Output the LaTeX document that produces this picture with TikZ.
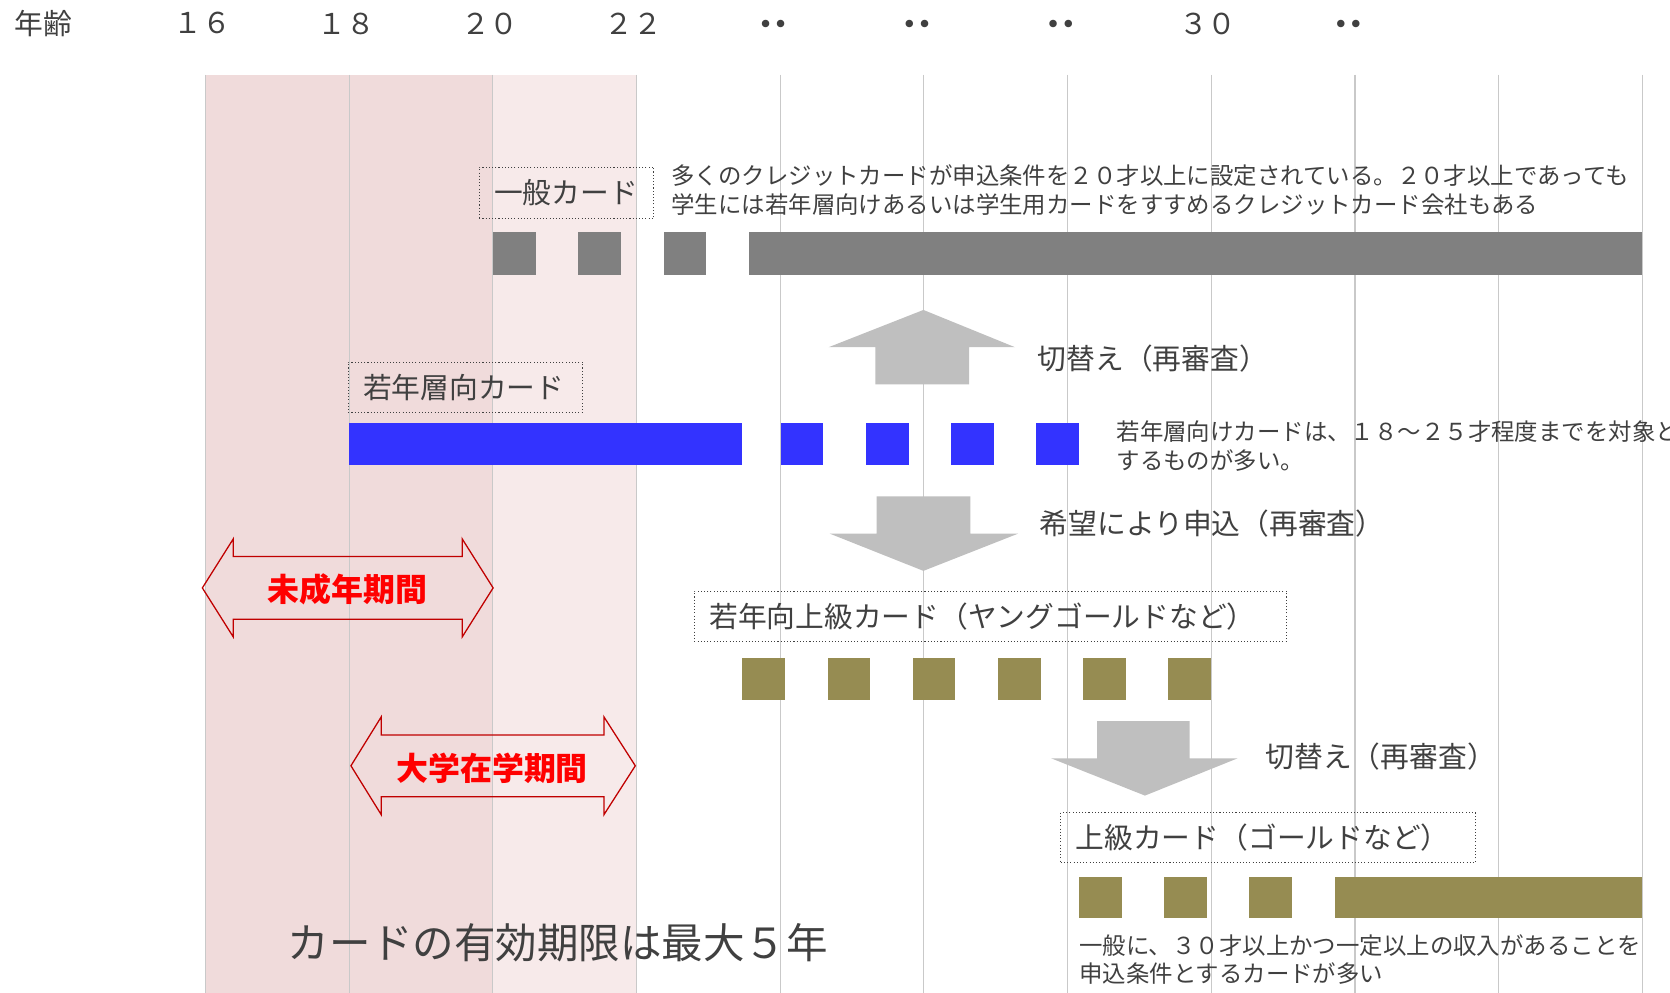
\documentclass[tikz,border=0pt]{standalone}
\usepackage{fontspec}
\setmainfont{Noto Sans CJK JP}
\newfontfamily\dotfont{DejaVu Sans}
\definecolor{txt}{HTML}{404040}
\definecolor{pinkdark}{HTML}{F0DBDB}
\definecolor{pinklight}{HTML}{F7EAEA}
\definecolor{gridc}{HTML}{C9C9C9}
\definecolor{bargray}{HTML}{808080}
\definecolor{barblue}{HTML}{3333FF}
\definecolor{barolive}{HTML}{968C52}
\definecolor{arrowgray}{HTML}{BFBFBF}
\definecolor{redline}{HTML}{C00000}
\definecolor{redtext}{HTML}{FF0000}
\begin{document}
\begin{tikzpicture}[x=0.5pt,y=-0.5pt,
  gridline/.style={draw=gridc,line width=0.5pt},
  hdr/.style={inner sep=0pt,text=txt,font=\fontsize{13.5pt}{16pt}\selectfont},
  hdrdots/.style={inner sep=0pt,text=txt,font=\dotfont\fontsize{12pt}{14pt}\selectfont},
  lbl/.style={inner sep=0pt,anchor=west,text=txt,font=\fontsize{13.5pt}{16pt}\selectfont},
  note/.style={inner sep=0pt,anchor=west,align=left,text=txt,font=\fontsize{11pt}{13.5pt}\selectfont},
  cardbox/.style={draw=txt,densely dotted,line width=0.5pt,inner xsep=7pt,inner ysep=0pt,align=left,text=txt,font=\fontsize{13.5pt}{16pt}\selectfont},
  blockarrow/.style={fill=arrowgray},
  redarrow/.style={draw=redline,line width=0.6pt,line join=miter},
  redlbl/.style={inner sep=0pt,text=redtext,font=\fontsize{15pt}{18pt}\selectfont\bfseries},
  biglbl/.style={inner sep=0pt,anchor=west,text=txt,font=\fontsize{19.5pt}{23pt}\selectfont}
]
\useasboundingbox (0,0) rectangle (1568,932);
% background bands
\fill[pinkdark] (193,70) rectangle (463,932);
\fill[pinklight] (463,70) rectangle (598,932);
% grid lines
\foreach \i in {0,...,10}{
  \draw[gridline] ({193+134.9*\i},70) -- ({193+134.9*\i},932);
}
% header
\node[hdr,anchor=west] (age) at (13,22) {年齢};
\node[hdr] (h16) at (190,22) {１６};
\node[hdr] (h18) at (325,22) {１８};
\node[hdr] (h20) at (460,22) {２０};
\node[hdr] (h22) at (595,22) {２２};
\node[hdrdots] (hd1) at (726,25) {••};
\node[hdrdots] (hd2) at (861,25) {••};
\node[hdrdots] (hd3) at (996,25) {••};
\node[hdr] (h30) at (1134,22) {３０};
\node[hdrdots] (hd4) at (1266,25) {••};

% general card
\node[cardbox,text width=68pt,minimum height=24pt] (gen) at (532,181) {一般カード};
\node[note] (gennote) at (630,178.5) {多くのクレジットカードが申込条件を２０才以上に設定されている。２０才以上であっても\\学生には若年層向けあるいは学生用カードをすすめるクレジットカード会社もある};
\foreach \a/\b in {463/503,543/583,623/663,703/1542}{
  \fill[bargray] (\a,218) rectangle (\b,258);
}
% up arrow
\fill[blockarrow] (867,291) -- (953,326) -- (910,326) -- (910,361) -- (822,361) -- (822,326) -- (778,326) -- cycle;
\node[lbl] (sw1) at (974,337) {切替え（再審査）};

% youth card
\node[cardbox,text width=96pt,minimum height=23.5pt] (youth) at (437,363.5) {若年層向カード};
\foreach \a/\b in {328/697,733/773,813/853,893/933,973/1013}{
  \fill[barblue] (\a,397) rectangle (\b,437);
}
\node[note] (youthnote) at (1048,418.5) {若年層向けカードは、１８～２５才程度までを対象と\\するものが多い。};

% down arrow 1
\fill[blockarrow] (823,466) -- (911,466) -- (911,501) -- (956,501) -- (867,536) -- (779,501) -- (823,501) -- cycle;
\node[lbl] (apply) at (976,492) {希望により申込（再審査）};

% minor period arrow
\draw[redarrow] (190,552) -- (219,506) -- (219,522.5) -- (434,522.5) -- (434,506) -- (463,552) -- (434,598) -- (434,581.5) -- (219,581.5) -- (219,598) -- cycle;
\node[redlbl] (minor) at (326,553) {未成年期間};

% young gold card
\node[cardbox,text width=264pt,minimum height=23.5pt] (ygold) at (930,578.5) {若年向上級カード（ヤングゴールドなど）};
\foreach \a/\b in {697/737,777/817,857/897,937/977,1017/1057,1097/1137}{
  \fill[barolive] (\a,618) rectangle (\b,657);
}

% university period arrow
\draw[redarrow] (329.5,719) -- (358,673) -- (358,690) -- (567,690) -- (567,673) -- (596.5,719) -- (567,765) -- (567,748) -- (358,748) -- (358,765) -- cycle;
\node[redlbl] (univ) at (462,721) {大学在学期間};

% down arrow 2
\fill[blockarrow] (1030,677) -- (1117,677) -- (1117,712) -- (1162,712) -- (1075,747) -- (987,712) -- (1030,712) -- cycle;
\node[lbl] (sw2) at (1188,710) {切替え（再審査）};

% gold card
\node[cardbox,text width=180.5pt,minimum height=23.5pt] (gold) at (1190.5,786.5) {上級カード（ゴールドなど）};
\foreach \a/\b in {1013/1053,1093/1133,1173/1213,1253/1542}{
  \fill[barolive] (\a,823) rectangle (\b,862);
}
\node[note] (goldnote) at (1013,901) {一般に、３０才以上かつ一定以上の収入があることを\\申込条件とするカードが多い};

% validity note
\node[biglbl] (valid) at (270,885) {カードの有効期限は最大５年};
\end{tikzpicture}
\end{document}
